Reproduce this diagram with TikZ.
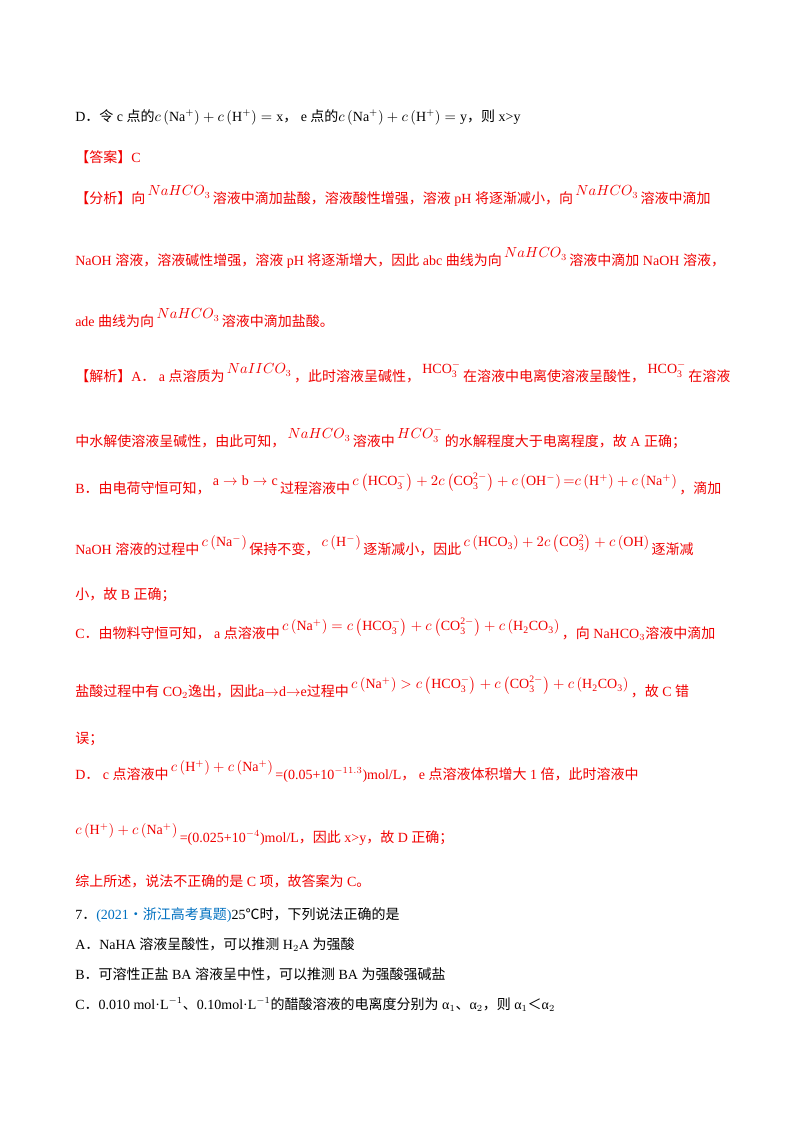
\documentclass[tikz,border=0pt]{standalone}
\usepackage{amsmath}
\usepackage{fontspec}
\setmainfont{Liberation Serif}
\newfontfamily\cjk{Noto Sans CJK SC}
\newcommand\zh[1]{{\cjk #1}}
\newcommand\up[1]{\,\raisebox{1.1ex}{#1}\,}
\newcommand\nahco{\up{$NaHCO_3$}}
\newcommand\cc[1]{c\left(\mathrm{#1}\right)}
\definecolor{ansred}{RGB}{240,0,0}
\definecolor{srcblue}{RGB}{0,112,192}
\begin{document}
\begin{tikzpicture}[x=0.75pt,y=-0.75pt]
  \tikzset{line/.style={anchor=base west, inner sep=0pt, text=ansred,
      font=\fontsize{10.5}{12}\selectfont},
    plain/.style={line, text=black}}
  \useasboundingbox (0,0) rectangle (800,1132);

  \node[plain] (qd) at (75,121) {D\zh{．令} c \zh{点的}$\cc{Na^+}+\cc{H^+}=\mathrm{x}$\zh{，} e \zh{点的}$\cc{Na^+}+\cc{H^+}=\mathrm{y}$\zh{，则} x>y};
  \node[line] (ans) at (75,162) {\zh{【答案】}C};
  \node[line] (fx1) at (75,203) {\zh{【分析】向}\nahco\zh{溶液中滴加盐酸，溶液酸性增强，溶液} pH \zh{将逐渐减小，向}\nahco\zh{溶液中滴加}};
  \node[line] (fx2) at (75,265) {NaOH \zh{溶液，溶液碱性增强，溶液} pH \zh{将逐渐增大，因此} abc \zh{曲线为向}\nahco\zh{溶液中滴加} NaOH \zh{溶液，}};
  \node[line] (fx3) at (75,326) {ade \zh{曲线为向}\nahco\zh{溶液中滴加盐酸。}};
  \node[line] (jx1) at (75,381) {\zh{【解析】}A\zh{．} a \zh{点溶质为}\up{$NaIICO_3$}\zh{，此时溶液呈碱性，}\up{$\mathrm{HCO_3^-}$}\zh{在溶液中电离使溶液呈酸性，}\up{$\mathrm{HCO_3^-}$}\zh{在溶液}};
  \node[line] (jx2) at (75,446) {\zh{中水解使溶液呈碱性，由此可知，}\nahco\zh{溶液中}\up{$HCO_3^-$}\zh{的水解程度大于电离程度，故} A \zh{正确；}};
  \node[line] (jb1) at (75,493) {B\zh{．由电荷守恒可知，}\up{$\mathrm{a}\rightarrow\mathrm{b}\rightarrow\mathrm{c}$}\zh{过程溶液中}\up{$\cc{HCO_3^-}+2\cc{CO_3^{2-}}+\cc{OH^-}{=}\cc{H^+}+\cc{Na^+}$}\zh{，滴加}};
  \node[line] (jb2) at (75,554) {NaOH \zh{溶液的过程中}\up{$\cc{Na^-}$}\zh{保持不变，}\up{$\cc{H^-}$}\zh{逐渐减小，因此}\up{$\cc{HCO_3}+2\cc{CO_3^2}+\cc{OH}$}\zh{逐渐减}};
  \node[line] (jb3) at (75,599) {\zh{小，故} B \zh{正确；}};
  \node[line] (jc1) at (75,638) {C\zh{．由物料守恒可知，} a \zh{点溶液中}\up{$\cc{Na^+}=\cc{HCO_3^-}+\cc{CO_3^{2-}}+\cc{H_2CO_3}$}\zh{，向} NaHCO$_3$\zh{溶液中滴加}};
  \node[line] (jc2) at (75,696) {\zh{盐酸过程中有} CO$_2$\zh{逸出，因此}a$\rightarrow$d$\rightarrow$e\zh{过程中}\up{$\cc{Na^+}>\cc{HCO_3^-}+\cc{CO_3^{2-}}+\cc{H_2CO_3}$}\zh{，故} C \zh{错}};
  \node[line] (jc3) at (75,743) {\zh{误；}};
  \node[line] (jd1) at (75,779) {D\zh{．} c \zh{点溶液中}\up{$\cc{H^+}+\cc{Na^+}$}=(0.05+10$^{-11.3}$)mol/L\zh{，} e \zh{点溶液体积增大} 1 \zh{倍，此时溶液中}};
  \node[line] (jd2) at (75,842) {\raisebox{1.1ex}{$\cc{H^+}+\cc{Na^+}$}\,=(0.025+10$^{-4}$)mol/L\zh{，因此} x>y\zh{，故} D \zh{正确；}};
  \node[line] (sum) at (75,886) {\zh{综上所述，说法不正确的是} C \zh{项，故答案为} C\zh{。}};
  \node[plain] (q7) at (75,919) {7\zh{．}\textcolor{srcblue}{(2021\zh{·浙江高考真题})}25\zh{℃时，下列说法正确的是}};
  \node[plain] (q7a) at (75,949) {A\zh{．}NaHA \zh{溶液呈酸性，可以推测} H$_2$A \zh{为强酸}};
  \node[plain] (q7b) at (75,979) {B\zh{．可溶性正盐} BA \zh{溶液呈中性，可以推测} BA \zh{为强酸强碱盐}};
  \node[plain] (q7c) at (75,1009) {C\zh{．}0.010 mol·L$^{-1}$\zh{、}0.10mol·L$^{-1}$\zh{的醋酸溶液的电离度分别为} α$_1$\zh{、}α$_2$\zh{，则} α$_1$\zh{＜}α$_2$};
\end{tikzpicture}
\end{document}
